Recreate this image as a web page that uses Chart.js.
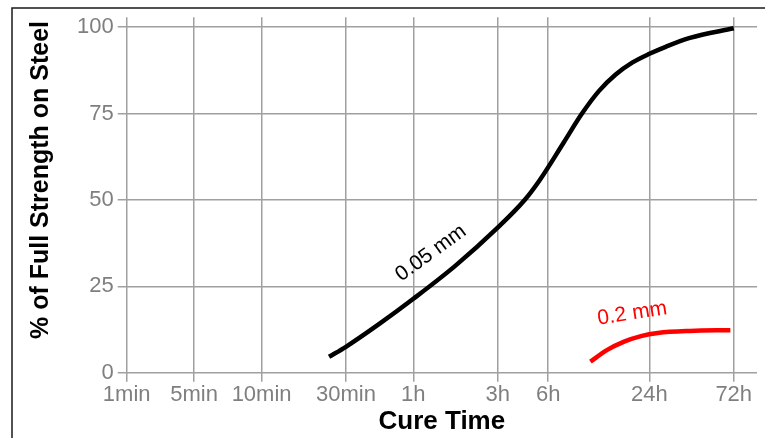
<!DOCTYPE html>
<html>
<head>
<meta charset="utf-8">
<script src="https://cdn.jsdelivr.net/npm/chart.js@4"></script>
<style>
  html, body { margin: 0; padding: 0; background: #fff; }
  #wrap { position: relative; width: 765px; height: 438px; }
</style>
</head>
<body>
<div id="wrap"><canvas id="c" width="765" height="438"></canvas></div>
<script>
// ---- Data ----
const tickValues = [0, 4, 8, 13, 17, 22, 25, 31, 36];          // axis units of each cure-time tick
const tickLabels = ['1min', '5min', '10min', '30min', '1h', '3h', '6h', '24h', '72h'];
const yTickValues = [0, 25, 50, 75, 100];

const thinX = [12, 13, 15, 17, 19.5, 22, 23.6, 24.5, 25.9, 27, 28, 29, 30, 31, 32, 33.4, 36];
const thinY = [4.6, 7.5, 14.2, 21.4, 31, 42, 50, 55.8, 66.5, 75, 81.5, 86.3, 89.8, 92.3, 94.4, 96.9, 99.7];

const thickX = [27.5, 28.5, 29.5, 30.5, 31.5, 33.4, 35.8];
const thickY = [3.2, 6.6, 9.0, 10.6, 11.5, 12.1, 12.3];

const seriesNames = ['0.05 mm', '0.2 mm'];
const seriesColors = ['#000000', '#ff0000'];
const labelX = [18.04, 29.98];
const labelY = [34.6, 17.1];
const labelAngle = [-36, -8.8];

const xTitle = 'Cure Time';
const yTitle = '% of Full Strength on Steel';

function pts(xs, ys) { return xs.map((x, i) => ({ x: x, y: ys[i] })); }

const FONT = "'Liberation Sans', Arial, Helvetica, sans-serif";

const decor = {
  id: 'decor',
  beforeDraw(chart) {
    const ctx = chart.ctx;
    ctx.save();
    ctx.strokeStyle = '#1a1a1a';
    ctx.lineWidth = 1.5;
    ctx.beginPath();
    ctx.moveTo(12, 440);
    ctx.lineTo(12, 8);
    ctx.lineTo(770, 8);
    ctx.stroke();
    ctx.restore();
  },
  afterDraw(chart) {
    const ctx = chart.ctx;
    const xs = chart.scales.x, ys = chart.scales.y;
    ctx.save();
    ctx.font = '21px ' + FONT;
    ctx.textAlign = 'center';
    ctx.textBaseline = 'middle';
    for (let i = 0; i < seriesNames.length; i++) {
      ctx.save();
      ctx.translate(xs.getPixelForValue(labelX[i]), ys.getPixelForValue(labelY[i]));
      ctx.rotate(labelAngle[i] * Math.PI / 180);
      ctx.fillStyle = seriesColors[i];
      ctx.fillText(seriesNames[i], 0, 0);
      ctx.restore();
    }
    ctx.fillStyle = '#000';
    ctx.font = 'bold 26px ' + FONT;
    ctx.fillText(xTitle, (chart.chartArea.left + chart.chartArea.right) / 2, 421.5);
    ctx.font = 'bold 25px ' + FONT;
    ctx.save();
    ctx.translate(41, 180);
    ctx.rotate(-Math.PI / 2);
    ctx.fillText(yTitle, 0, 0);
    ctx.restore();
    ctx.restore();
  }
};

new Chart(document.getElementById('c'), {
  type: 'line',
  data: {
    datasets: [
      { label: seriesNames[0], data: pts(thinX, thinY), borderColor: seriesColors[0], borderWidth: 4.5,
        pointRadius: 0, cubicInterpolationMode: 'monotone', fill: false, borderCapStyle: 'butt' },
      { label: seriesNames[1], data: pts(thickX, thickY), borderColor: seriesColors[1], borderWidth: 4.5,
        pointRadius: 0, cubicInterpolationMode: 'monotone', fill: false, borderCapStyle: 'butt' }
    ]
  },
  options: {
    responsive: false,
    animation: false,
    layout: { padding: { top: 15, right: 8, left: 0, bottom: 0 } },
    plugins: { legend: { display: false }, tooltip: { enabled: false } },
    scales: {
      x: {
        type: 'linear',
        min: 0,
        max: 37.38,
        afterFit(s) { s.height = 65.3; },
        afterBuildTicks(s) { s.ticks = tickValues.map(v => ({ value: v })); },
        grid: { color: '#a0a0a0', lineWidth: 1.5, tickLength: 9, drawTicks: true },
        border: { display: false },
        ticks: {
          autoSkip: false, maxRotation: 0, padding: 0,
          color: '#7f7f7f', font: { family: FONT, size: 22 },
          callback(v) { const i = tickValues.indexOf(v); return i >= 0 ? tickLabels[i] : ''; }
        }
      },
      y: {
        type: 'linear',
        min: 0,
        max: 102.9,
        afterFit(s) { s.width = 126.7; },
        afterBuildTicks(s) { s.ticks = yTickValues.map(v => ({ value: v })); },
        grid: { color: '#a0a0a0', lineWidth: 1.5, tickLength: 9, drawTicks: true },
        border: { display: false },
        ticks: {
          padding: 4, color: '#7f7f7f', font: { family: FONT, size: 22 }
        }
      }
    }
  },
  plugins: [decor]
});
</script>
</body>
</html>
